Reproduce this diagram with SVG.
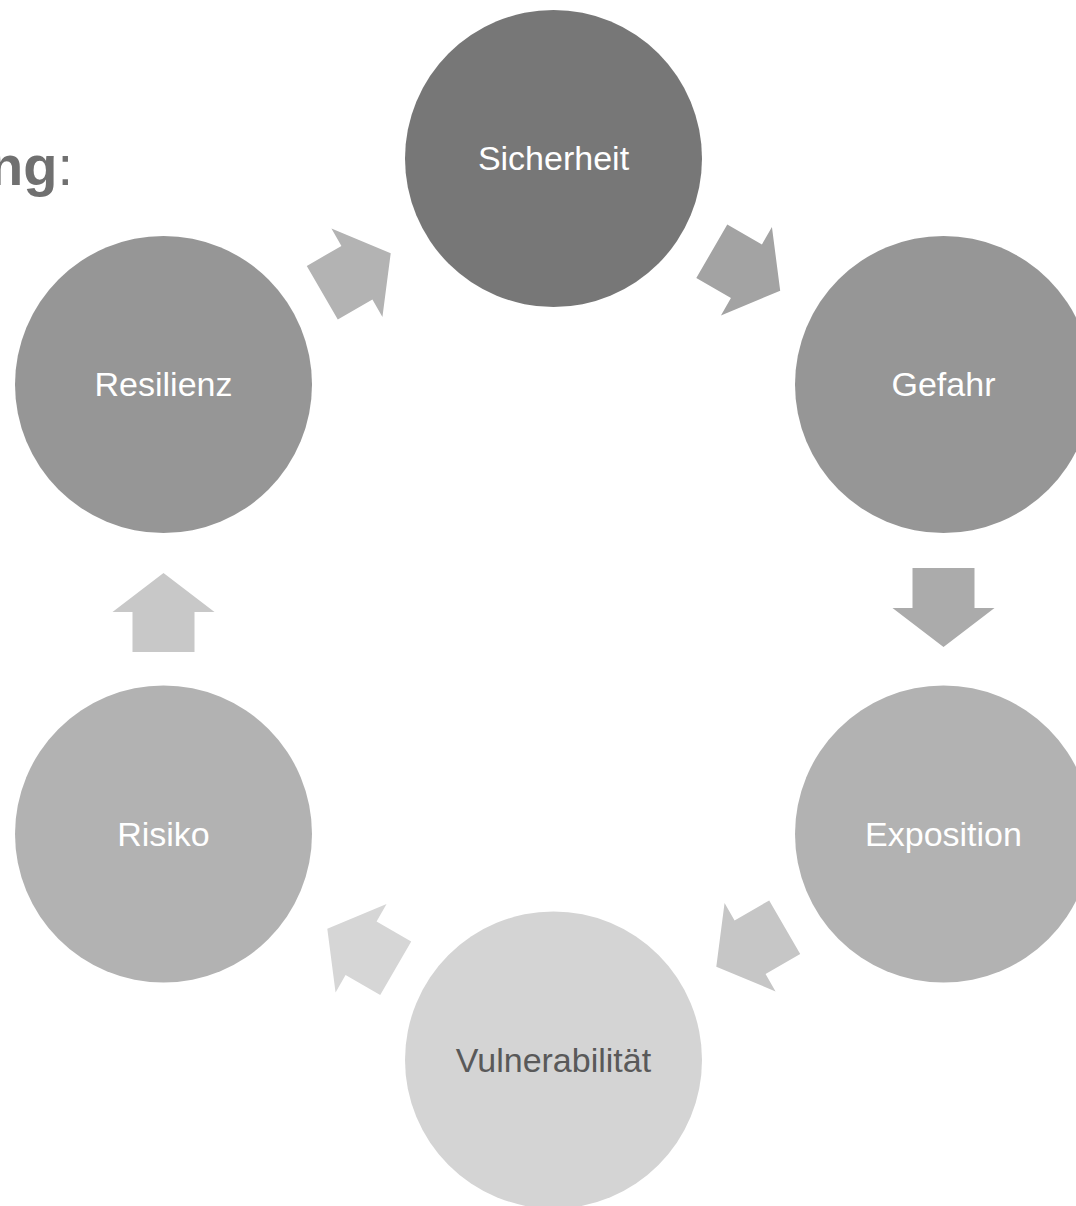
<svg xmlns="http://www.w3.org/2000/svg" width="1076" height="1206" viewBox="0 0 1076 1206">
  <style>
    .lbl { font-family: "Liberation Sans", Arial, sans-serif; font-size: 34px; text-anchor: middle; fill: #ffffff; }
    .dark { fill: #595959; }
    .title { font-family: "Liberation Sans", Arial, sans-serif; font-size: 56px; fill: #707070; }
  </style>
  <defs>
    <path id="arr" d="M-39.5,-31 H0.5 V-51 L39.5,0 L0.5,51 V31 H-39.5 Z"/>
  </defs>
  <rect width="1076" height="1206" fill="#ffffff"/>
  <text class="title" x="-11" y="185"><tspan font-weight="bold">ng</tspan>:</text>

  <g id="connectors">
    <use href="#arr" fill="#a3a3a3" transform="translate(746,271) rotate(30)"/>
    <use href="#arr" fill="#ababab" transform="translate(943.5,607.5) rotate(90)"/>
    <use href="#arr" fill="#c6c6c6" transform="translate(750.5,947) rotate(150)"/>
    <use href="#arr" fill="#d6d6d6" transform="translate(361.5,948.5) rotate(210)"/>
    <use href="#arr" fill="#c8c8c8" transform="translate(163.5,612.5) rotate(-90)"/>
    <use href="#arr" fill="#b3b3b3" transform="translate(356.5,273) rotate(-30)"/>
  </g>

  <g id="sicherheit">
    <circle cx="553.5" cy="158.5" r="148.5" fill="#777777"/>
    <text class="lbl" x="553.5" y="170">Sicherheit</text>
  </g>
  <g id="gefahr">
    <circle cx="943.5" cy="384.5" r="148.5" fill="#969696"/>
    <text class="lbl" x="943.5" y="396">Gefahr</text>
  </g>
  <g id="exposition">
    <circle cx="943.5" cy="834" r="148.5" fill="#b2b2b2"/>
    <text class="lbl" x="943.5" y="846">Exposition</text>
  </g>
  <g id="vulnerabilitaet">
    <circle cx="553.5" cy="1060" r="148.5" fill="#d4d4d4"/>
    <text class="lbl dark" x="553.5" y="1072">Vulnerabilität</text>
  </g>
  <g id="risiko">
    <circle cx="163.5" cy="834" r="148.5" fill="#b2b2b2"/>
    <text class="lbl" x="163.5" y="846">Risiko</text>
  </g>
  <g id="resilienz">
    <circle cx="163.5" cy="384.5" r="148.5" fill="#969696"/>
    <text class="lbl" x="163.5" y="396">Resilienz</text>
  </g>
</svg>
